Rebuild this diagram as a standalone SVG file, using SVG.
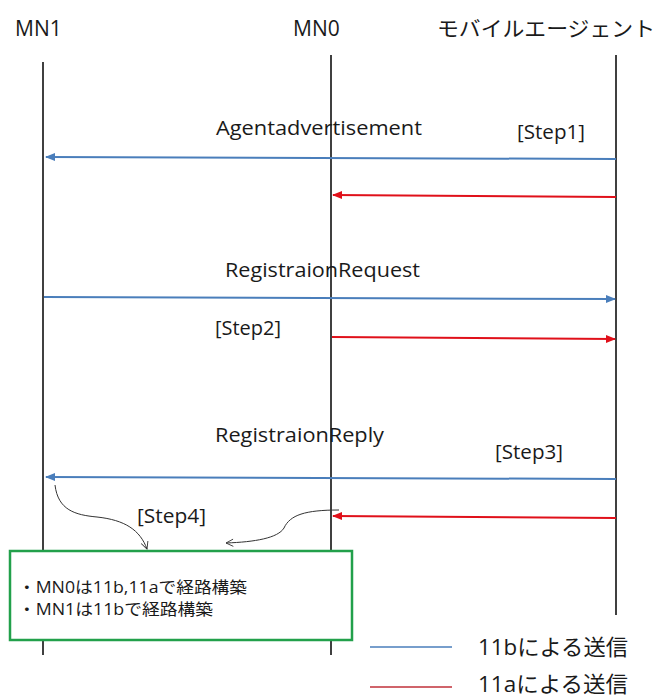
<svg xmlns="http://www.w3.org/2000/svg" width="657" height="697" viewBox="0 0 657 697">
<style>
text{font-family:"Open Sans","Noto Sans CJK JP",sans-serif;fill:#1a1a1a}
.t{font-size:21px}
.l{font-size:20px}
.b{font-size:16px}
.g{font-size:22px}
.life{stroke:#000;stroke-width:1.5}
.blue{stroke:#4a7ebb;stroke-width:2;fill:none}
.red{stroke:#e0101a;stroke-width:2;fill:none}
.cur{stroke:#333;stroke-width:1;fill:none}
</style>
<defs>
<marker id="ab" viewBox="0 0 10 10" refX="9" refY="5" markerWidth="5" markerHeight="5" orient="auto"><path d="M0,1L10,5L0,9z" fill="#4a7ebb"/></marker>
<marker id="ar" viewBox="0 0 10 10" refX="9" refY="5" markerWidth="5" markerHeight="5" orient="auto"><path d="M0,1L10,5L0,9z" fill="#e0101a"/></marker>
<marker id="ak" viewBox="0 0 10 10" refX="9" refY="5" markerWidth="9" markerHeight="9" orient="auto"><path d="M1,1L9,5L1,9" fill="none" stroke="#333" stroke-width="1"/></marker>
</defs>
<g id="MN1"><text class="t" x="15" y="36">MN1</text><line class="life" x1="43" y1="62" x2="43" y2="655"/></g>
<g id="MN0"><text class="t" x="293" y="36">MN0</text><line class="life" x1="331" y1="55" x2="331" y2="655"/></g>
<g id="agent"><text class="t" x="437" y="36" textLength="218" lengthAdjust="spacingAndGlyphs">モバイルエージェント</text><line class="life" x1="616" y1="55" x2="616" y2="615"/></g>
<g id="connectors">
<line class="blue" x1="616" y1="159" x2="46" y2="157" marker-end="url(#ab)"/>
<line class="red" x1="616" y1="197" x2="333" y2="195" marker-end="url(#ar)"/>
<line class="blue" x1="44" y1="297" x2="615" y2="299" marker-end="url(#ab)"/>
<line class="red" x1="332" y1="337" x2="615" y2="339" marker-end="url(#ar)"/>
<line class="blue" x1="616" y1="479" x2="46" y2="477" marker-end="url(#ab)"/>
<line class="red" x1="616" y1="518" x2="333" y2="516" marker-end="url(#ar)"/>
<path class="cur" d="M55,485 C58,510 75,515 97,517 C125,520 140,530 147,549" marker-end="url(#ak)"/>
<path class="cur" d="M339,510 C305,510 290,515 284,528 C278,538 255,542 226,543" marker-end="url(#ak)"/>
</g>
<g id="labels">
<text class="l" x="216" y="135" textLength="206" lengthAdjust="spacingAndGlyphs">Agentadvertisement</text>
<text class="l" x="517" y="139" textLength="68" lengthAdjust="spacingAndGlyphs">[Step1]</text>
<text class="l" x="225" y="277" textLength="195" lengthAdjust="spacingAndGlyphs">RegistraionRequest</text>
<text class="l" x="215" y="335" textLength="66" lengthAdjust="spacingAndGlyphs">[Step2]</text>
<text class="l" x="215" y="442" textLength="169" lengthAdjust="spacingAndGlyphs">RegistraionReply</text>
<text class="l" x="495" y="459" textLength="68" lengthAdjust="spacingAndGlyphs">[Step3]</text>
<text class="l" x="137" y="523" textLength="69" lengthAdjust="spacingAndGlyphs">[Step4]</text>
</g>
<g id="note">
<rect x="10" y="551" width="342" height="89" fill="#fff" stroke="#22a04b" stroke-width="2.5"/>
<text class="b" x="18" y="593" textLength="229" lengthAdjust="spacingAndGlyphs">・MN0は11b,11aで経路構築</text>
<text class="b" x="18" y="615" textLength="195" lengthAdjust="spacingAndGlyphs">・MN1は11bで経路構築</text>
</g>
<g id="legend">
<line x1="370" y1="647" x2="452" y2="647" stroke="#4a7ebb" stroke-width="1.5"/>
<text class="g" x="478" y="655" textLength="150" lengthAdjust="spacingAndGlyphs">11bによる送信</text>
<line x1="370" y1="687" x2="452" y2="687" stroke="#c0303a" stroke-width="1.5"/>
<text class="g" x="478" y="692" textLength="150" lengthAdjust="spacingAndGlyphs">11aによる送信</text>
</g>
</svg>
